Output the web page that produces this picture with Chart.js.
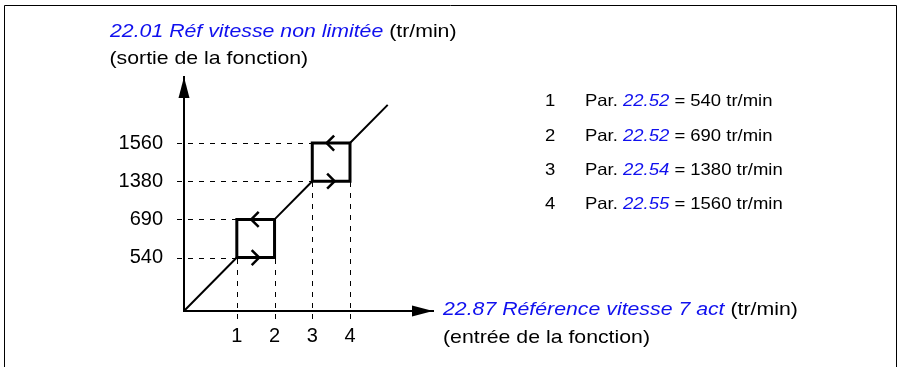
<!DOCTYPE html>
<html><head><meta charset="utf-8">
<script src="https://cdn.jsdelivr.net/npm/chart.js@4/dist/chart.umd.min.js"></script>
<style>html,body{margin:0;padding:0;background:#fff;overflow:hidden}canvas{display:block}</style>
</head><body><canvas id="c" width="903" height="367"></canvas>
<script>
// ---- data ----
const inputTickLabels = ['1', '2', '3', '4'];
const outputTickLabels = ['540', '690', '1380', '1560'];
const switchPoints = [1.4, 2.4, 3.4, 4.4];   // schematic positions of the 4 thresholds (both axes)
const curveEnd = 5.4;
const axisMaxX = 6.6;
const axisMaxY = 6.13;
const legendNumbers = ['1', '2', '3', '4'];
const legendParams = ['22.52', '22.52', '22.54', '22.55'];
const legendValues = ['540 tr/min', '690 tr/min', '1380 tr/min', '1560 tr/min'];
const yTitleParam = '22.01 Réf vitesse non limitée';
const yTitleUnit = ' (tr/min)';
const yTitleSub = '(sortie de la fonction)';
const xTitleParam = '22.87 Référence vitesse 7 act';
const xTitleUnit = ' (tr/min)';
const xTitleSub = '(entrée de la fonction)';

const BLUE = '#1010ee';
const BLACK = '#000000';
const FAMILY = "'Liberation Sans', Arial, sans-serif";
Chart.defaults.font.family = FAMILY;

const s = switchPoints;
const diagonal = [
  {x: 0, y: 0}, {x: s[0], y: s[0]}, {x: s[0], y: null},
  {x: s[1], y: s[1]}, {x: s[2], y: s[2]}, {x: s[2], y: null},
  {x: s[3], y: s[3]}, {x: curveEnd, y: curveEnd}
];
const boxes = [
  {x: s[0], y: s[0]}, {x: s[1], y: s[0]}, {x: s[1], y: s[1]}, {x: s[0], y: s[1]}, {x: s[0], y: s[0]},
  {x: s[0], y: null},
  {x: s[2], y: s[2]}, {x: s[3], y: s[2]}, {x: s[3], y: s[3]}, {x: s[2], y: s[3]}, {x: s[2], y: s[2]}
];

function drawRuns(ctx, x, y, runs, size, sx) {
  ctx.save();
  ctx.translate(x, y);
  ctx.scale(sx, 1);
  ctx.textBaseline = 'alphabetic';
  ctx.textAlign = 'left';
  let off = 0;
  for (const r of runs) {
    ctx.font = (r.italic ? 'italic ' : '') + size + 'px ' + FAMILY;
    ctx.fillStyle = r.color;
    ctx.fillText(r.t, off, 0);
    off += ctx.measureText(r.t).width;
  }
  ctx.restore();
}

const diagramPlugin = {
  id: 'diagram',
  beforeDatasetsDraw(chart) {
    const ctx = chart.ctx, xs = chart.scales.x, ys = chart.scales.y;
    const x0 = xs.getPixelForValue(0), y0 = ys.getPixelForValue(0);
    ctx.save();
    ctx.strokeStyle = BLACK;
    ctx.lineWidth = 1;
    ctx.setLineDash([5, 6]);
    const hTo = [s[0], s[0], s[2], s[2]];
    s.forEach((v, i) => {
      const py = Math.round(ys.getPixelForValue(v)) + 0.5;
      ctx.beginPath();
      ctx.moveTo(x0 - 7, py);
      ctx.lineTo(xs.getPixelForValue(hTo[i]), py);
      ctx.stroke();
    });
    const vTo = [s[0], s[0], s[2], s[2]];
    s.forEach((v, i) => {
      const px = Math.round(xs.getPixelForValue(v)) + 0.5;
      ctx.beginPath();
      ctx.moveTo(px, y0 + 8);
      ctx.lineTo(px, ys.getPixelForValue(vTo[i]));
      ctx.stroke();
    });
    ctx.restore();
  },
  afterDraw(chart) {
    const ctx = chart.ctx, xs = chart.scales.x, ys = chart.scales.y, ca = chart.chartArea;
    const x0 = xs.getPixelForValue(0), y0 = ys.getPixelForValue(0);
    ctx.save();
    ctx.fillStyle = BLACK;
    ctx.beginPath();
    ctx.moveTo(x0, ca.top);
    ctx.lineTo(x0 - 5.5, ca.top + 21);
    ctx.lineTo(x0 + 5.5, ca.top + 21);
    ctx.closePath(); ctx.fill();
    ctx.beginPath();
    ctx.moveTo(ca.right, y0);
    ctx.lineTo(ca.right - 21, y0 - 5.5);
    ctx.lineTo(ca.right - 21, y0 + 5.5);
    ctx.closePath(); ctx.fill();
    ctx.strokeStyle = BLACK;
    ctx.lineWidth = 2.5;
    ctx.lineJoin = 'miter';
    const pairs = [[s[0], s[1]], [s[2], s[3]]];
    pairs.forEach(([a, b]) => {
      const cx = xs.getPixelForValue((a + b) / 2);
      const yb = ys.getPixelForValue(a), yt = ys.getPixelForValue(b);
      ctx.beginPath();
      ctx.moveTo(cx - 4, yb - 7.5);
      ctx.lineTo(cx + 3.5, yb);
      ctx.lineTo(cx - 4, yb + 7.5);
      ctx.stroke();
      ctx.beginPath();
      ctx.moveTo(cx + 3, yt - 7.5);
      ctx.lineTo(cx - 4.5, yt);
      ctx.lineTo(cx + 3, yt + 7.5);
      ctx.stroke();
    });
    ctx.lineWidth = 1;
    ctx.beginPath();
    ctx.moveTo(4.5, 367); ctx.lineTo(4.5, 5.5); ctx.lineTo(896.5, 5.5); ctx.lineTo(896.5, 367);
    ctx.stroke();
    ctx.restore();

    drawRuns(ctx, 110, 36.5, [{t: yTitleParam, color: BLUE, italic: true}, {t: yTitleUnit, color: BLACK}], 19, 1.12);
    drawRuns(ctx, 109.5, 64, [{t: yTitleSub, color: BLACK}], 19, 1.12);
    drawRuns(ctx, 443, 315, [{t: xTitleParam, color: BLUE, italic: true}, {t: xTitleUnit, color: BLACK}], 19, 1.12);
    drawRuns(ctx, 443, 342.5, [{t: xTitleSub, color: BLACK}], 19, 1.12);
    const rowY = [106, 141, 175.3, 209.3];
    legendNumbers.forEach((n, i) => {
      drawRuns(ctx, 545, rowY[i], [{t: n, color: BLACK}], 16.5, 1.12);
      drawRuns(ctx, 585, rowY[i], [
        {t: 'Par. ', color: BLACK},
        {t: legendParams[i], color: BLUE, italic: true},
        {t: ' = ' + legendValues[i], color: BLACK}
      ], 16.5, 1.12);
    });
  }
};

new Chart(document.getElementById('c'), {
  type: 'line',
  data: {
    datasets: [
      {data: diagonal, borderColor: BLACK, borderWidth: 2, pointRadius: 0, spanGaps: false, tension: 0},
      {data: boxes, borderColor: BLACK, borderWidth: 3, pointRadius: 0, spanGaps: false, tension: 0,
       borderJoinStyle: 'miter', borderCapStyle: 'square'}
    ]
  },
  options: {
    responsive: false,
    animation: false,
    events: [],
    layout: {padding: {left: 0, right: 903 - 433, top: 77, bottom: 0}},
    plugins: {legend: {display: false}, tooltip: {enabled: false}, title: {display: false}},
    scales: {
      x: {
        type: 'linear', min: 0, max: axisMaxX,
        grid: {display: false},
        border: {display: true, color: BLACK, width: 2},
        afterBuildTicks: sc => { sc.ticks = switchPoints.map(v => ({value: v})); },
        afterFit: sc => { sc.height = 367 - 311; },
        ticks: {autoSkip: false, maxRotation: 0, color: BLACK, font: {size: 20}, padding: 5,
                callback: (v, i) => inputTickLabels[i]}
      },
      y: {
        type: 'linear', min: 0, max: axisMaxY,
        grid: {display: false},
        border: {display: true, color: BLACK, width: 2},
        afterBuildTicks: sc => { sc.ticks = switchPoints.map(v => ({value: v})); },
        afterFit: sc => { sc.width = 184; },
        ticks: {autoSkip: false, color: BLACK, font: {size: 20}, padding: 13,
                callback: (v, i) => outputTickLabels[i]}
      }
    }
  },
  plugins: [diagramPlugin]
});
</script>
</body></html>
